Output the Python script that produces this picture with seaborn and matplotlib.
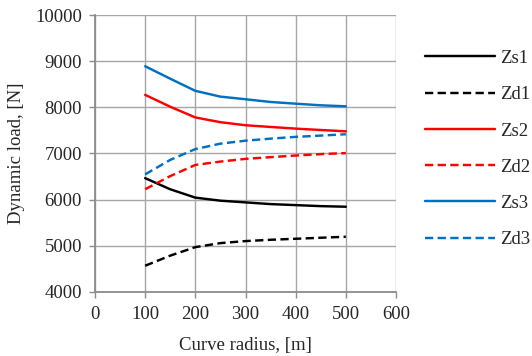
import matplotlib
matplotlib.use("Agg")
import matplotlib.pyplot as plt
import seaborn as sns
import pandas as pd

# Curve radius, m
radius = [100, 150, 200, 250, 300, 350, 400, 450, 500]

# Dynamic loads, N
zs1 = [6466, 6225, 6044, 5978, 5941, 5904, 5882, 5860, 5847]
zd1 = [4569, 4788, 4972, 5059, 5103, 5131, 5153, 5175, 5197]
zs2 = [8270, 8013, 7781, 7678, 7612, 7575, 7539, 7509, 7480]
zd2 = [6226, 6511, 6752, 6825, 6884, 6921, 6956, 6987, 7009]
zs3 = [8890, 8620, 8357, 8232, 8175, 8116, 8079, 8044, 8022]
zd3 = [6548, 6862, 7096, 7213, 7278, 7322, 7360, 7388, 7417]

series_names = ["Zs1", "Zd1", "Zs2", "Zd2", "Zs3", "Zd3"]
series_values = [zs1, zd1, zs2, zd2, zs3, zd3]

x_ticks = [0, 100, 200, 300, 400, 500, 600]
y_ticks = [4000, 5000, 6000, 7000, 8000, 9000, 10000]

rows = []
for name, vals in zip(series_names, series_values):
    for r, v in zip(radius, vals):
        rows.append({"radius": r, "load": v, "series": name})
df = pd.DataFrame(rows)

sns.set_style("white")
plt.rcParams["font.family"] = ["Liberation Serif", "DejaVu Serif"]

palette = {"Zs1": "#000000", "Zd1": "#000000",
           "Zs2": "#ff0000", "Zd2": "#ff0000",
           "Zs3": "#0070c0", "Zd3": "#0070c0"}
dash = (3.4, 1.8)
dashes = {"Zs1": "", "Zd1": dash, "Zs2": "", "Zd2": dash,
          "Zs3": "", "Zd3": dash}

FS = 13.5

fig = plt.figure(figsize=(5.32, 3.56), dpi=100)
ax = fig.add_axes([95 / 532, 1 - 292 / 356, 301 / 532, 277 / 356])

sns.lineplot(data=df, x="radius", y="load", hue="series", style="series",
             hue_order=series_names, style_order=series_names,
             palette=palette, dashes=dashes, linewidth=1.75, ax=ax,
             legend=True)

ax.set_xlim(0, 600)
ax.set_ylim(4000, 10000)
ax.set_xticks(x_ticks)
ax.set_yticks(y_ticks)
ax.grid(True, color="#a6a6a6", linewidth=1.0)
ax.set_axisbelow(True)

for side in ["top", "right"]:
    ax.spines[side].set_visible(False)
for side in ["left", "bottom"]:
    ax.spines[side].set_color("#8c8c8c")
    ax.spines[side].set_linewidth(1.3)

ax.tick_params(axis="both", which="both", direction="out", length=4.3,
               width=1.0, color="#8c8c8c", labelsize=FS)
ax.tick_params(axis="both", left=True, bottom=True)
ax.tick_params(axis="y", pad=5)
ax.tick_params(axis="x", pad=6)

ax.set_xlabel("Curve radius, [m]", fontsize=FS, labelpad=10)
ax.set_ylabel("Dynamic load, [N]", fontsize=FS, labelpad=7)

handles, labels = ax.get_legend_handles_labels()
leg = ax.legend(handles, labels, loc="upper left",
                bbox_to_anchor=(1.072, 0.901), frameon=False,
                fontsize=FS, handlelength=3.7, handletextpad=0.27,
                labelspacing=1.02, borderaxespad=0)

fig.savefig("out.png", dpi=100)
